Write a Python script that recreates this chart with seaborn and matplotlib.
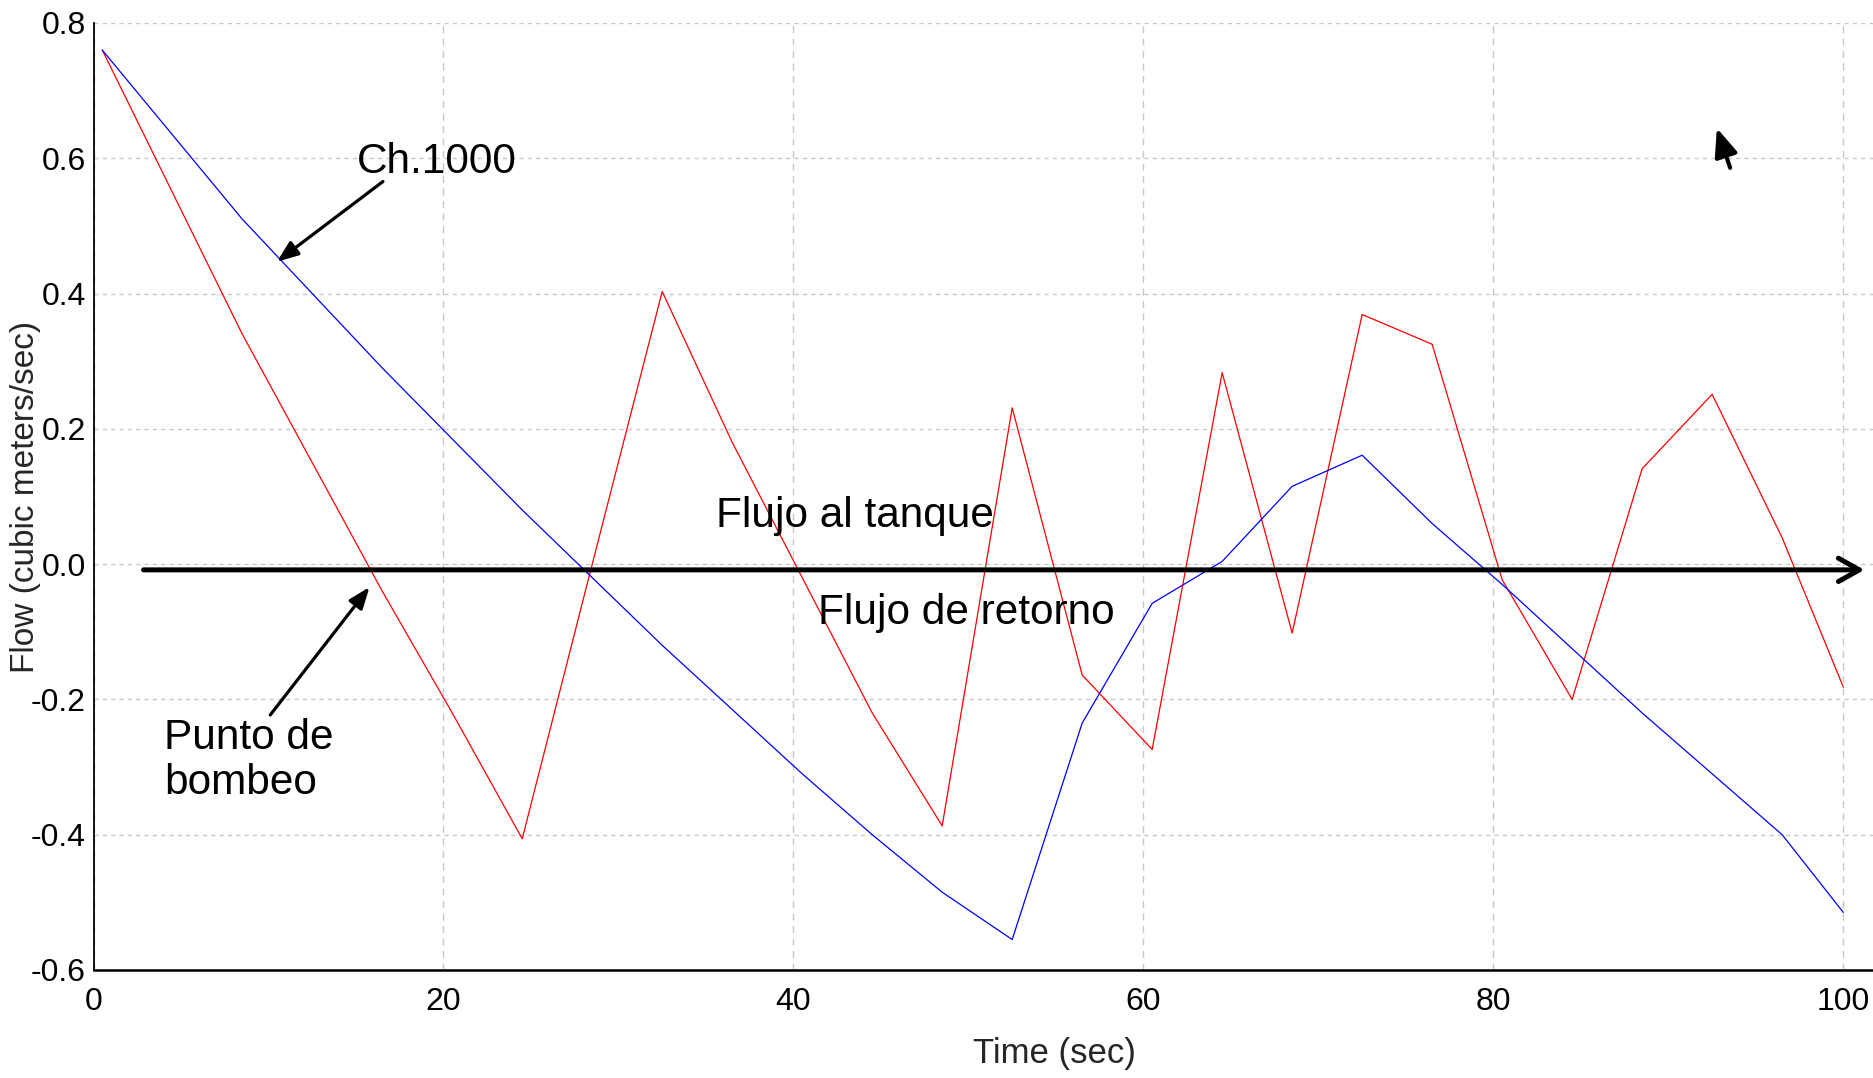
import matplotlib
matplotlib.use("Agg")
import matplotlib.pyplot as plt
import seaborn as sns
import pandas as pd

# time samples (sec)
time_s = [0.5, 4.5, 8.5, 12.5, 16.5, 20.5, 24.5, 28.5, 32.5, 36.5, 40.5, 44.5,
          48.5, 52.5, 56.5, 60.5, 64.5, 68.5, 72.5, 76.5, 80.5, 84.5, 88.5,
          92.5, 96.5, 100.0]

# flow at pumping point (red) and Ch.1000 (blue), m3/s
flow_punto = [0.76, 0.55, 0.34, 0.15, -0.04, -0.22, -0.406, 0.0, 0.403, 0.18,
              -0.02, -0.22, -0.387, 0.231, -0.164, -0.274, 0.283, -0.102,
              0.369, 0.325, -0.023, -0.20, 0.141, 0.251, 0.039, -0.182]
flow_ch1000 = [0.76, 0.635, 0.51, 0.40, 0.29, 0.185, 0.08, -0.02, -0.12, -0.215,
               -0.31, -0.40, -0.485, -0.555, -0.235, -0.058, 0.004, 0.115,
               0.161, 0.06, -0.03, -0.125, -0.22, -0.31, -0.40, -0.515]

y_ticks = [-0.6, -0.4, -0.2, 0.0, 0.2, 0.4, 0.6, 0.8]
y_labels = ["-0.6", "-0.4", "-0.2", "0.0", "0.2", "0.4", "0.6", "0.8"]
x_ticks = [0, 20, 40, 60, 80, 100]

df = pd.DataFrame({"time": time_s, "punto": flow_punto, "ch1000": flow_ch1000})

sns.set_style("white")
plt.rcParams["font.family"] = ["Liberation Sans", "DejaVu Sans"]

fig = plt.figure(figsize=(18.74, 10.78), dpi=100)
ax = fig.add_axes([0.0499, 0.1002, 0.9501, 0.8785])

sns.lineplot(data=df, x="time", y="punto", color="#ff0000", linewidth=0.9, ax=ax)
sns.lineplot(data=df, x="time", y="ch1000", color="#0000ff", linewidth=0.9, ax=ax)

ax.set_xlim(0, 101.75)
ax.set_ylim(-0.6, 0.8)
ax.set_xticks(x_ticks)
ax.set_yticks(y_ticks)
ax.set_yticklabels(y_labels)

ax.xaxis.grid(True, color="#c8c8c8", linestyle=(0, (5, 4)), linewidth=1)
ax.yaxis.grid(True, color="#c8c8c8", linestyle=(0, (3, 3)), linewidth=1)

for s in ["top", "right"]:
    ax.spines[s].set_visible(False)
ax.spines["left"].set_linewidth(1.3)
ax.spines["bottom"].set_linewidth(1.8)
ax.spines["left"].set_color("black")
ax.spines["bottom"].set_color("black")

ax.tick_params(axis="both", direction="inout", length=7, width=1, labelsize=23,
               colors="black")
ax.tick_params(axis="x", pad=9)
ax.tick_params(axis="y", pad=2)
zero_tick = ax.yaxis.get_major_ticks()[3]
zero_tick.tick1line.set_color("red")
zero_tick.tick1line.set_markersize(12)

ax.set_xlabel("Time (sec)", fontsize=25)
ax.set_ylabel("Flow (cubic meters/sec)", fontsize=24)
ax.xaxis.set_label_coords(0.5395, -0.071)
ax.yaxis.set_label_coords(-0.0294, 0.5)

# flow direction arrow
ax.annotate("", xy=(101.2, -0.0085), xytext=(2.86, -0.0085),
            arrowprops=dict(arrowstyle="->,head_length=0.75,head_width=0.42",
                            mutation_scale=20, lw=3.6, color="black",
                            shrinkA=0, shrinkB=0))

txt = dict(fontsize=30.5, color="black")
pointer = dict(arrowstyle="-|>,head_length=0.65,head_width=0.25",
               mutation_scale=20, lw=2.3, color="black", shrinkA=0, shrinkB=0)
ax.text(15.07, 0.595, "Ch.1000", va="center", ha="left", **txt)
ax.annotate("", xy=(10.48, 0.447), xytext=(16.54, 0.5656), arrowprops=pointer)
ax.text(35.6, 0.071, "Flujo al tanque", va="center", ha="left", **txt)
ax.text(41.4, -0.072, "Flujo de retorno", va="center", ha="left", **txt)
ax.text(4.02, -0.29, "Punto de\nbombeo", va="center", ha="left",
        linespacing=1.15, **txt)
ax.annotate("", xy=(15.77, -0.034), xytext=(10.1, -0.223), arrowprops=pointer)

# mouse cursor left in the screenshot
ax.annotate("", xy=(92.77, 0.6445), xytext=(93.53, 0.5858),
            arrowprops=dict(arrowstyle="-|>,head_length=0.85,head_width=0.35",
                            mutation_scale=20, lw=3, color="black",
                            shrinkA=0, shrinkB=0))

fig.savefig("out.png", dpi=100)
